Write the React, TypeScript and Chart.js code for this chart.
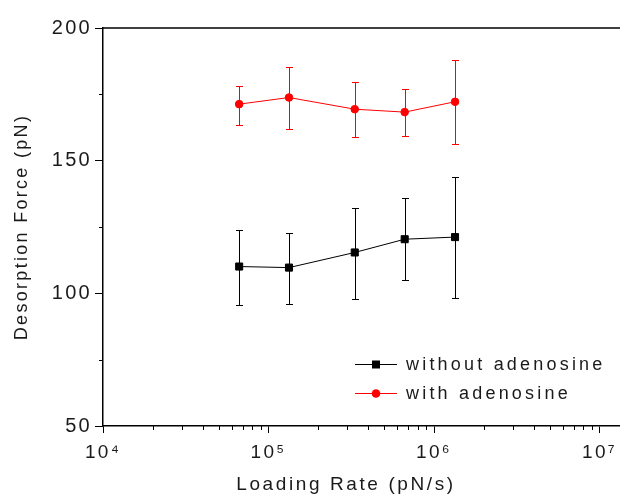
import React, { useEffect, useRef } from "react";
import { Chart, registerables } from "chart.js";

Chart.register(...registerables);

// ---- data ----
const loadingRates = [66500, 133000, 332000, 665000, 1340000];
const withoutMean = [110.1, 109.7, 115.4, 120.4, 121.2];
const withoutLow = [95.7, 96.1, 98.0, 104.9, 98.4];
const withoutHigh = [123.7, 122.9, 132.3, 136.0, 143.9];
const withMean = [171.3, 173.8, 169.4, 168.3, 172.2];
const withLow = [163.5, 161.9, 159.0, 159.4, 156.1];
const withHigh = [178.3, 185.3, 179.5, 177.0, 187.8];
const seriesNames = ["without adenosine", "with adenosine"];
const xTickValues = [1e4, 1e5, 1e6, 1e7];
const yTickValues = [50, 100, 150, 200];
const yMinorValues = [75, 125, 175];
const xTitle = "Loading Rate (pN/s)";
const yTitle = "Desorption Force (pN)";

const FONT = "'Liberation Sans', Arial, sans-serif";
const TEXT = "#1a1a1a";
const SUP: Record<string, string> = {
  "0": "\u2070", "1": "\u00b9", "2": "\u00b2", "3": "\u00b3", "4": "\u2074",
  "5": "\u2075", "6": "\u2076", "7": "\u2077", "8": "\u2078", "9": "\u2079",
};
const expLabel = (v: number) =>
  "10" + String(Math.round(Math.log10(v))).split("").map((c) => SUP[c]).join("");

const spacingPlugin = {
  id: "spacing",
  beforeDraw(chart: any) {
    chart.ctx.letterSpacing = "2.3px";
  },
};

const errorBarPlugin = {
  id: "errorBars",
  beforeDatasetsDraw(chart: any) {
    const { ctx } = chart;
    const xs = chart.scales.x;
    const ys = chart.scales.y;
    chart.data.datasets.forEach((ds: any) => {
      const lo = ds.errLow as number[];
      const hi = ds.errHigh as number[];
      ctx.save();
      ctx.strokeStyle = ds.borderColor;
      ctx.lineWidth = 1;
      ds.data.forEach((p: any, j: number) => {
        const x = Math.round(xs.getPixelForValue(p.x)) + 0.5;
        const y1 = Math.round(ys.getPixelForValue(lo[j])) + 0.5;
        const y2 = Math.round(ys.getPixelForValue(hi[j])) + 0.5;
        ctx.beginPath();
        ctx.moveTo(x, y1);
        ctx.lineTo(x, y2);
        ctx.moveTo(x - 3.5, y1);
        ctx.lineTo(x + 3.5, y1);
        ctx.moveTo(x - 3.5, y2);
        ctx.lineTo(x + 3.5, y2);
        ctx.stroke();
      });
      ctx.restore();
    });
  },
};

const framePlugin = {
  id: "frame",
  afterDraw(chart: any) {
    const { ctx, chartArea } = chart;
    const xs = chart.scales.x;
    const ys = chart.scales.y;
    ctx.save();
    ctx.strokeStyle = "#000";
    ctx.lineWidth = 1.5;
    // top frame line
    ctx.beginPath();
    ctx.moveTo(chartArea.left, chartArea.top);
    ctx.lineTo(chartArea.right, chartArea.top);
    ctx.stroke();
    // minor ticks
    ctx.lineWidth = 1;
    ctx.beginPath();
    for (let d = 1e4; d <= 1e7; d *= 10) {
      for (let m = 2; m <= 9; m++) {
        const v = d * m;
        if (v > xs.max) continue;
        const x = Math.round(xs.getPixelForValue(v)) + 0.5;
        ctx.moveTo(x, chartArea.bottom);
        ctx.lineTo(x, chartArea.bottom + 4);
      }
    }
    yMinorValues.forEach((v) => {
      const y = Math.round(ys.getPixelForValue(v)) + 0.5;
      ctx.moveTo(chartArea.left - 4, y);
      ctx.lineTo(chartArea.left, y);
    });
    ctx.stroke();

    // x-axis title
    ctx.fillStyle = TEXT;
    ctx.font = `19px ${FONT}`;
    ctx.letterSpacing = "2.6px";
    ctx.textAlign = "center";
    ctx.textBaseline = "middle";
    ctx.fillText(xTitle, chartArea.left + 243, chartArea.bottom + 59);

    // legend
    chart.data.datasets.forEach((ds: any, i: number) => {
      const y = chartArea.top + 336 + i * 29;
      const x0 = chartArea.left + 252;
      ctx.strokeStyle = ds.borderColor;
      ctx.lineWidth = 1;
      ctx.beginPath();
      ctx.moveTo(x0, y + 0.5);
      ctx.lineTo(x0 + 42, y + 0.5);
      ctx.stroke();
      ctx.fillStyle = ds.backgroundColor;
      const mx = x0 + 21;
      if (ds.pointStyle === "rect") {
        ctx.fillRect(mx - 4, y - 3.5, 8, 8);
      } else {
        ctx.beginPath();
        ctx.arc(mx, y + 0.5, 4.3, 0, Math.PI * 2);
        ctx.fill();
      }
      ctx.fillStyle = TEXT;
      ctx.font = `18px ${FONT}`;
      ctx.letterSpacing = "3.2px";
      ctx.textAlign = "left";
      ctx.textBaseline = "middle";
      ctx.fillText(ds.label, x0 + 51, y + 1);
    });
    ctx.restore();
  },
};

export default function App() {
  const ref = useRef<HTMLCanvasElement | null>(null);

  useEffect(() => {
    document.body.style.margin = "0";
    const canvas = ref.current!;
    const chart = new Chart(canvas, {
      type: "line",
      data: {
        datasets: [
          {
            label: seriesNames[0],
            data: loadingRates.map((x, i) => ({ x, y: withoutMean[i] })),
            errLow: withoutLow,
            errHigh: withoutHigh,
            borderColor: "#000000",
            backgroundColor: "#000000",
            borderWidth: 1,
            pointStyle: "rect",
            pointRadius: 5,
            pointBorderWidth: 1,
            tension: 0,
          } as any,
          {
            label: seriesNames[1],
            data: loadingRates.map((x, i) => ({ x, y: withMean[i] })),
            errLow: withLow,
            errHigh: withHigh,
            borderColor: "#ff0000",
            backgroundColor: "#ff0000",
            borderWidth: 1,
            pointStyle: "circle",
            pointRadius: 3.8,
            pointBorderWidth: 1,
            tension: 0,
          } as any,
        ],
      },
      options: {
        responsive: false,
        animation: false,
        devicePixelRatio: 1,
        layout: { autoPadding: false, padding: { top: 28, right: 0, left: 0, bottom: 0 } },
        plugins: {
          legend: { display: false },
          tooltip: { enabled: false },
        },
        scales: {
          x: {
            type: "logarithmic",
            min: 1e4,
            max: 1.33e7,
            afterBuildTicks: (scale: any) => {
              scale.ticks = xTickValues.map((v) => ({ value: v, major: true }));
            },
            afterFit: (scale: any) => {
              scale.height = 71;
              scale.paddingLeft = 0;
              scale.paddingRight = 0;
            },
            ticks: {
              autoSkip: false,
              maxRotation: 0,
              padding: 8,
              color: TEXT,
              font: { family: FONT, size: 19 },
              callback: (v: any) => expLabel(Number(v)),
            },
            grid: {
              drawOnChartArea: false,
              drawTicks: true,
              tickLength: 7,
              tickColor: "#000",
              tickWidth: 1,
            },
            border: { display: true, color: "#000", width: 1.5 },
            title: { display: false, text: xTitle },
          },
          y: {
            type: "linear",
            min: 50,
            max: 200,
            afterBuildTicks: (scale: any) => {
              scale.ticks = yTickValues.map((v) => ({ value: v }));
            },
            afterFit: (scale: any) => {
              scale.width = 103;
              scale.paddingTop = 0;
              scale.paddingBottom = 0;
            },
            ticks: {
              padding: 3,
              color: TEXT,
              font: { family: FONT, size: 20 },
            },
            grid: {
              drawOnChartArea: false,
              drawTicks: true,
              tickLength: 8,
              tickColor: "#000",
              tickWidth: 1,
            },
            border: { display: true, color: "#000", width: 1.5 },
            title: {
              display: true,
              text: yTitle,
              color: TEXT,
              font: { family: FONT, size: 18 },
              padding: { top: 11, bottom: 0 },
            },
          },
        },
      } as any,
      plugins: [spacingPlugin, errorBarPlugin, framePlugin],
    });
    return () => chart.destroy();
  }, []);

  return (
    <div style={{ width: 620, height: 497 }}>
      <canvas ref={ref} width={620} height={497} style={{ display: "block" }} />
    </div>
  );
}
